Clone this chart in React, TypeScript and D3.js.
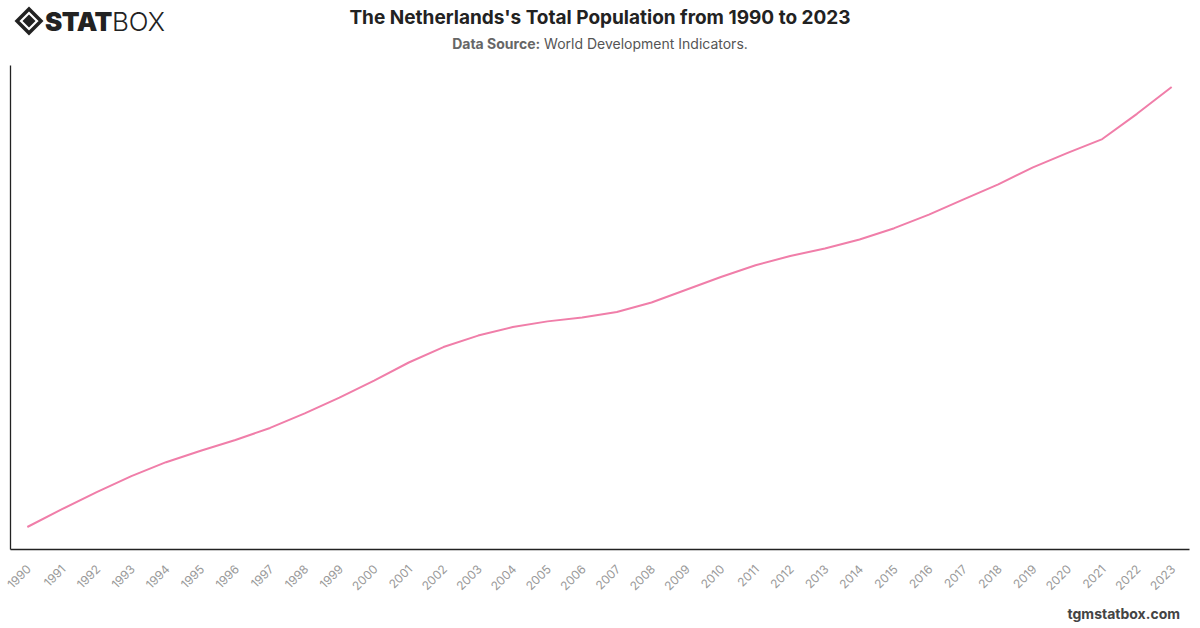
import { useEffect, useRef } from "react";
import * as d3 from "d3";

// total population, World Development Indicators
const years = [
  1990, 1991, 1992, 1993, 1994, 1995, 1996, 1997, 1998, 1999, 2000, 2001,
  2002, 2003, 2004, 2005, 2006, 2007, 2008, 2009, 2010, 2011, 2012, 2013,
  2014, 2015, 2016, 2017, 2018, 2019, 2020, 2021, 2022, 2023,
];
const population = [
  14951510, 15069798, 15184166, 15290368, 15382838, 15459006, 15530498,
  15610650, 15707209, 15812088, 15925513, 16046180, 16148929, 16225302,
  16281779, 16319868, 16346101, 16381696, 16445593, 16530388, 16615394,
  16693074, 16754962, 16804432, 16865008, 16939923, 17030314, 17131296,
  17231624, 17344874, 17441500, 17533044, 17700982, 17879488,
];

const width = 1200;
const height = 628;
const margin = { top: 65, right: 11, bottom: 79, left: 10 };
const font = "Inter, 'Noto Sans', sans-serif";

function App() {
  const canvas = useRef<SVGSVGElement>(null);

  useEffect(() => {
    const svg = d3.select(canvas.current);
    const iwidth = width - margin.left - margin.right;
    const iheight = height - margin.top - margin.bottom;

    const x = d3
      .scalePoint<number>()
      .domain(years)
      .range([0, iwidth])
      .padding(0.5);

    const lo = d3.min(population)!;
    const hi = d3.max(population)!;
    const pad = (hi - lo) * 0.05;
    const y = d3.scaleLinear().domain([lo - pad, hi + pad]).range([iheight, 0]);

    const g = svg.select<SVGGElement>(".plot")
      .attr("transform", `translate(${margin.left},${margin.top})`);

    const xAxis = g.select<SVGGElement>(".x-axis")
      .attr("transform", `translate(0,${iheight})`)
      .call(d3.axisBottom(x).tickSize(0).tickPadding(0));
    xAxis.select(".domain").attr("stroke", "#222").attr("stroke-width", 1.3);
    xAxis
      .selectAll<SVGTextElement, number>("text")
      .attr("fill", "#999")
      .attr("font-family", font)
      .attr("font-size", 12)
      .attr("text-anchor", "end")
      .attr("dy", 0)
      .attr("transform", "translate(4,21) rotate(-45)");

    const yAxis = g.select<SVGGElement>(".y-axis")
      .call(d3.axisLeft(y).ticks(0).tickSize(0));
    yAxis.select(".domain").attr("stroke", "#222").attr("stroke-width", 1.3);

    const line = d3
      .line<number>()
      .x((_, i) => x(years[i])!)
      .y((d) => y(d));

    g.select(".series")
      .selectAll("path")
      .data([population])
      .join("path")
      .attr("fill", "none")
      .attr("stroke", "#f07ea9")
      .attr("stroke-width", 2)
      .attr("stroke-linejoin", "round")
      .attr("d", line);
  }, []);

  return (
    <svg
      ref={canvas}
      width={width}
      height={height}
      style={{ position: "absolute", left: 0, top: 0, background: "#fff" }}
    >
      {/* logo */}
      <g transform="translate(29,21)">
        <path d="M0,-12 L12,0 L0,12 L-12,0 Z" fill="none" stroke="#222" strokeWidth={3.5} />
        <path d="M0,-6.5 L6.5,0 L0,6.5 L-6.5,0 Z" fill="#222" />
      </g>
      <text x={45} y={31} fontFamily={font} fontSize={26} fill="#222">
        <tspan fontWeight={900} letterSpacing={-0.5}>STAT</tspan>
        <tspan fontWeight={300}>BOX</tspan>
      </text>

      <text
        x={600}
        y={24}
        textAnchor="middle"
        fontFamily={font}
        fontWeight={700}
        fontSize={19}
        fill="#222"
      >
        The Netherlands's Total Population from 1990 to 2023
      </text>
      <text x={600} y={49} textAnchor="middle" fontFamily={font} fontSize={14} fill="#555">
        <tspan fontWeight={700} fill="#666">Data Source:</tspan> World Development Indicators.
      </text>

      <g className="plot">
        <g className="series" />
        <g className="x-axis" />
        <g className="y-axis" />
      </g>

      <text
        x={1180}
        y={619}
        textAnchor="end"
        fontFamily={font}
        fontWeight={700}
        fontSize={14}
        fill="#444"
      >
        tgmstatbox.com
      </text>
    </svg>
  );
}

export default App;
